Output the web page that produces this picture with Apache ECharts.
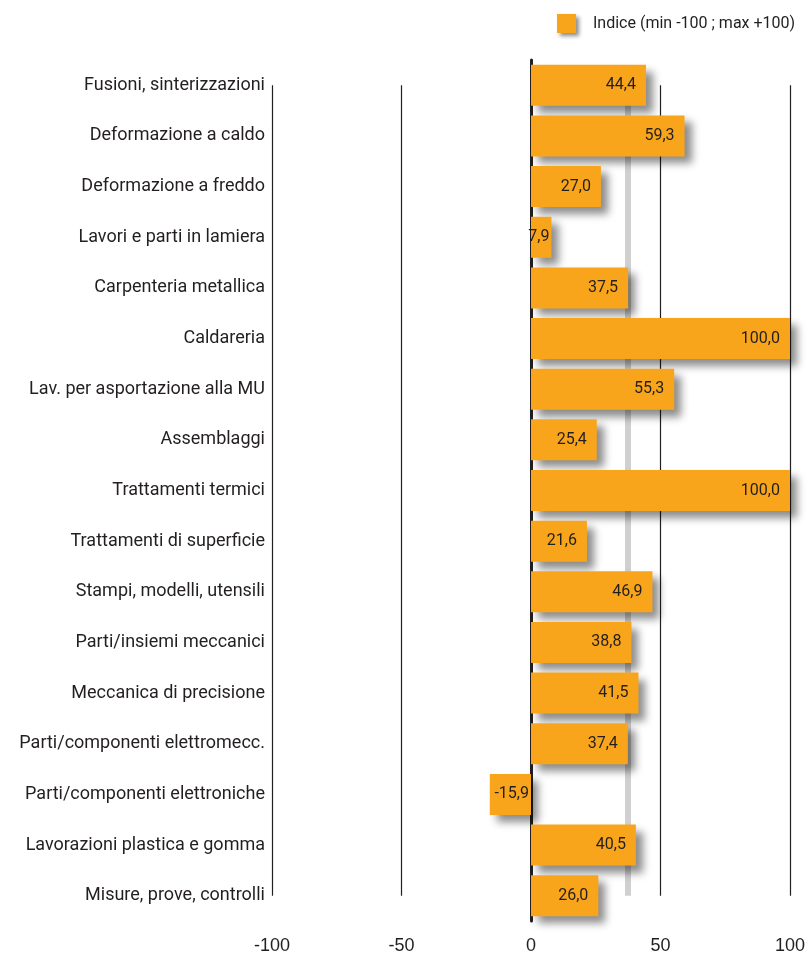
<!DOCTYPE html>
<html>
<head>
<meta charset="utf-8">
<script src="https://cdn.jsdelivr.net/npm/echarts@6/dist/echarts.min.js"></script>
<style>
  html, body { margin: 0; padding: 0; background: #fff; }
  #chart { width: 808px; height: 956px; }
</style>
</head>
<body>
<div id="chart"></div>
<script>
var categories = [
  'Fusioni, sinterizzazioni',
  'Deformazione a caldo',
  'Deformazione a freddo',
  'Lavori e parti in lamiera',
  'Carpenteria metallica',
  'Caldareria',
  'Lav. per asportazione alla MU',
  'Assemblaggi',
  'Trattamenti termici',
  'Trattamenti di superficie',
  'Stampi, modelli, utensili',
  'Parti/insiemi meccanici',
  'Meccanica di precisione',
  'Parti/componenti elettromecc.',
  'Parti/componenti elettroniche',
  'Lavorazioni plastica e gomma',
  'Misure, prove, controlli'
];
var values = [44.4, 59.3, 27.0, 7.9, 37.5, 100.0, 55.3, 25.4, 100.0, 21.6, 46.9, 38.8, 41.5, 37.4, -15.9, 40.5, 26.0];
var gridValues = [-100, -50, 50, 100];
var meanValue = 37.5;
var seriesName = 'Indice (min -100 ; max +100)';

var narrow = '"Roboto", sans-serif';
var dark = '#231f20';
var first = categories[0];
var last = categories[categories.length - 1];

var chart = echarts.init(document.getElementById('chart'));

// linee verticali della griglia, da prima a ultima categoria
var gridLines = gridValues.map(function(v) {
  return [{ coord: [v, first] }, { coord: [v, last] }];
});

// barre corte: etichetta attaccata al bordo
var barData = values.map(function(v) {
  if (Math.abs(v) < 20) {
    return { value: v, label: { distance: 2 } };
  }
  return v;
});

var option = {
  animation: false,
  legend: {
    left: 552,
    top: 9,
    itemWidth: 19,
    itemHeight: 19,
    icon: 'rect',
    itemStyle: {
      shadowBlur: 4,
      shadowOffsetX: 3,
      shadowOffsetY: 3,
      shadowColor: 'rgba(0,0,0,0.45)'
    },
    textStyle: { fontFamily: narrow, fontSize: 16, color: dark, padding: [0, 0, 0, 12] },
    data: [seriesName]
  },
  grid: { left: 272, right: 18, top: 60, bottom: 35 },
  xAxis: {
    type: 'value',
    min: -100,
    max: 100,
    interval: 50,
    axisLine: { show: false },
    axisTick: { show: false },
    splitLine: { show: false },
    axisLabel: {
      margin: 16,
      fontFamily: '"Liberation Sans", sans-serif',
      fontSize: 18,
      color: dark
    }
  },
  yAxis: {
    type: 'category',
    inverse: true,
    data: categories,
    axisTick: { show: false },
    axisLine: { show: true, onZero: true, lineStyle: { color: dark, width: 3 } },
    axisLabel: {
      margin: 7,
      fontFamily: narrow,
      fontSize: 18,
      color: dark
    }
  },
  series: [
    {
      name: 'grid',
      type: 'line',
      data: [],
      z: 1,
      markLine: {
        silent: true,
        z: 1,
        symbol: 'none',
        label: { show: false },
        lineStyle: { color: dark, width: 1.2, type: 'solid' },
        data: gridLines.concat([
          [
            { coord: [meanValue, first], lineStyle: { color: '#d0d0d0', width: 6 } },
            { coord: [meanValue, last] }
          ]
        ])
      }
    },
    {
      name: seriesName,
      type: 'bar',
      z: 3,
      barWidth: 41,
      data: barData,
      itemStyle: {
        color: '#f9a51b',
        shadowBlur: 8,
        shadowOffsetX: 7,
        shadowOffsetY: 7,
        shadowColor: 'rgba(0,0,0,0.45)'
      },
      label: {
        show: true,
        position: 'insideRight',
        distance: 10,
        fontFamily: narrow,
        fontSize: 16,
        color: dark,
        formatter: function(p) {
          return p.value.toFixed(1).replace('.', ',');
        }
      }
    }
  ]
};
chart.setOption(option);
</script>
</body>
</html>
